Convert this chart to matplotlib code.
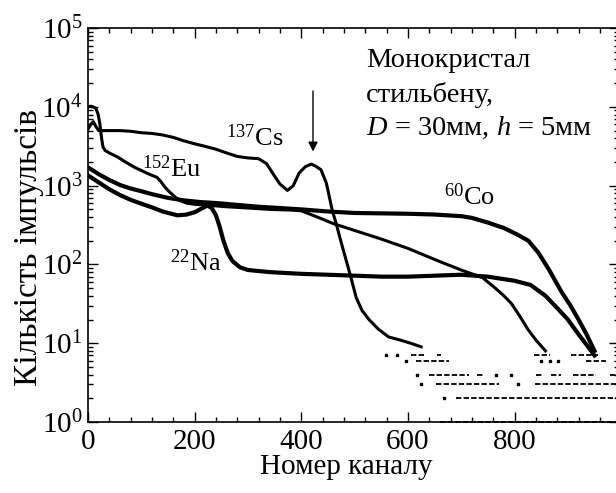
import math
import matplotlib
matplotlib.use('Agg')
import matplotlib.pyplot as plt
import matplotlib.ticker as ticker

plt.rcParams['font.family'] = 'Liberation Serif'
plt.rcParams['mathtext.fontset'] = 'custom'
plt.rcParams['mathtext.rm'] = 'Liberation Serif'
plt.rcParams['mathtext.it'] = 'Liberation Serif:italic'

# spectra (channel, counts)
cs_ch = [0, 5, 10, 15, 20, 40, 60, 80, 100, 120, 140, 160, 180, 200, 220, 240, 260, 280, 300, 320, 335, 346,
         360, 374, 385, 396, 408, 419, 428, 437, 447, 458, 466, 474, 484, 493, 503, 514, 527, 545, 564, 585, 605, 625]
cs_v = [5200, 6000, 6500, 5600, 5000, 5000, 5000, 4900, 4700, 4600, 4400, 4100, 3700, 3400, 3150, 2900, 2600, 2350,
        2250, 2200, 1900, 1450, 1050, 870, 1000, 1450, 1750, 1880, 1750, 1590, 1080, 490, 320, 200, 114, 69, 38, 26,
        20, 15, 12, 11, 10, 9]

eu_ch = [0, 5, 10, 15, 19, 22, 25, 28, 32, 40, 56, 70, 88, 105, 120, 129, 137, 144, 153, 163, 172, 185, 200, 230,
         260, 300, 340, 380, 400, 430, 460, 500, 550, 600, 658, 700, 740, 764, 780, 794, 810, 825, 840, 858]
eu_v = [10000, 10200, 10000, 9500, 8000, 6200, 4200, 3100, 2800, 2600, 2300, 2000, 1700, 1500, 1350, 1280, 1120, 960,
        830, 720, 650, 600, 580, 560, 540, 520, 500, 490, 480, 400, 330, 270, 210, 160, 110, 85, 68, 50, 40, 32, 22,
        15, 11, 8]

co_ch = [0, 10, 20, 40, 60, 80, 100, 120, 150, 180, 210, 243, 280, 320, 360, 400, 450, 500, 550, 600, 650, 700, 720,
         750, 780, 805, 826, 845, 865, 888, 905, 920, 935, 950]
co_v = [1700, 1550, 1400, 1180, 1020, 920, 850, 780, 700, 650, 620, 600, 570, 540, 520, 500, 470, 450, 445, 440, 430,
        410, 390, 340, 290, 240, 200, 140, 85, 45, 30, 20, 13, 8]

na_ch = [0, 20, 40, 60, 80, 100, 120, 140, 168, 185, 200, 215, 224, 232, 240, 247, 254, 262, 271, 285, 300, 340, 400,
         450, 500, 550, 600, 650, 700, 750, 800, 830, 858, 880, 900, 920, 938, 950]
na_v = [1350, 1100, 900, 760, 660, 590, 530, 470, 420, 430, 460, 520, 560, 520, 420, 300, 200, 140, 110, 92, 85, 80,
        76, 74, 72, 70, 70, 72, 74, 70, 62, 55, 40, 28, 20, 13, 9, 7]

# sparse low-count tails: runs of dots at integer counts (value, start channel, end channel)
tail_val = [7, 7, 7, 7, 7, 7,
            6, 6, 6, 6, 6, 6,
            4, 4, 4, 4, 4, 4, 4, 4, 4,
            3, 3, 3, 3,
            2, 2,
            1]
tail_start = [559, 580, 606, 654, 836, 905,
              596, 615, 850, 867, 882, 935,
              617, 639, 729, 766, 793, 841, 869, 910, 979,
              624, 652, 807, 839,
              667, 690,
              660]
tail_end = [559, 580, 634, 662, 867, 957,
            596, 677, 850, 867, 882, 972,
            617, 714, 742, 766, 793, 854, 888, 953, 990,
            624, 770, 807, 990,
            667, 990,
            990]

fig = plt.figure(figsize=(6.16, 4.93), dpi=100)
ax = fig.add_axes([0.1429, 0.144, 0.862, 0.799])

ax.plot(cs_ch, cs_v, color='black', lw=2.2, solid_joinstyle='round')
ax.plot(eu_ch, eu_v, color='black', lw=2.2, solid_joinstyle='round')
ax.plot(co_ch, co_v, color='black', lw=3.0, solid_joinstyle='round')
ax.plot(na_ch, na_v, color='black', lw=3.0, solid_joinstyle='round')

for v, s, e in zip(tail_val, tail_start, tail_end):
    if s == e:
        ax.plot([s], [v], color='black', ls='none', marker='s', ms=1.8)
    else:
        ax.plot([s, e], [v, v], color='black', lw=1.3, dashes=(3, 1.2), clip_on=(v > 1))

ax.set_yscale('log')
ax.set_xlim(0, 996)
ax.set_ylim(1, 1e5)

ax.xaxis.set_major_locator(ticker.MultipleLocator(200))
ax.xaxis.set_minor_locator(ticker.MultipleLocator(40))
ax.xaxis.set_major_formatter(ticker.FuncFormatter(lambda x, p: '%d' % x))
ax.yaxis.set_major_locator(ticker.LogLocator(base=10, numticks=10))
ax.yaxis.set_minor_locator(ticker.LogLocator(base=10, subs=range(2, 10), numticks=20))
ax.yaxis.set_major_formatter(ticker.FuncFormatter(lambda y, p: r'$\mathrm{10^{%d}}$' % round(math.log10(y))))
ax.yaxis.set_minor_formatter(ticker.NullFormatter())
ax.tick_params(which='both', direction='in', top=True, right=True, width=1.0, labelsize=21)
ax.tick_params(which='major', length=7)
ax.tick_params(which='minor', length=3.5)
ax.tick_params(axis='x', pad=5)
ax.tick_params(axis='y', pad=4)
for sp in ax.spines.values():
    sp.set_linewidth(1.2)

ax.set_xlabel('Номер каналу', fontsize=21)
ax.set_ylabel('Кількість імпульсів', fontsize=24)
ax.xaxis.set_label_coords(0.487, -0.082)
ax.yaxis.set_label_coords(-0.083, 0.444)

tf = ax.transAxes
ax.text(0.523, 0.901, 'Монокристал', transform=tf, fontsize=20.5, va='baseline')
ax.text(0.523, 0.812, 'стильбену,', transform=tf, fontsize=20.5, va='baseline')
ax.text(0.523, 0.728, r'$D$ = 30мм, $h$ = 5мм', transform=tf, fontsize=20.5, va='baseline')

ax.text(0.259, 0.70, r'$^{137}$Cs', transform=tf, fontsize=19, va='baseline')
ax.text(0.102, 0.622, r'$^{152}$Eu', transform=tf, fontsize=19, va='baseline')
ax.text(0.670, 0.551, r'$^{60}$Co', transform=tf, fontsize=19, va='baseline')
ax.text(0.155, 0.383, r'$^{22}$Na', transform=tf, fontsize=19, va='baseline')

ax.annotate('', xy=(422, 2500), xytext=(422, 17300),
            arrowprops=dict(arrowstyle='-|>', color='black', lw=1.0, mutation_scale=14))

fig.savefig('out.png', dpi=100)
